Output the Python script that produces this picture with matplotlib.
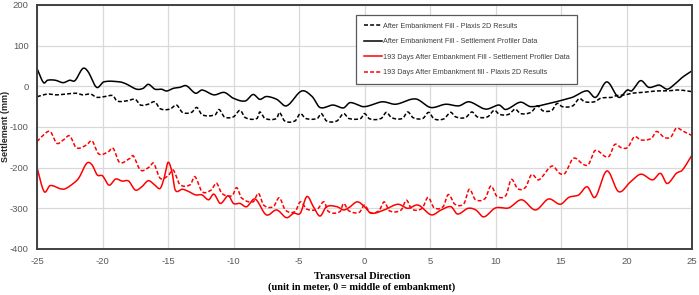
import numpy as np
import matplotlib
matplotlib.use("Agg")
import matplotlib.pyplot as plt

# ---------------- data ----------------
x_fill_profiler = [-25, -24.5, -24.2, -23.6, -23.0, -22.5, -22.1, -21.5, -21.1, -20.45, -19.9, -18.7, -18.2,
                   -17.4, -16.9, -16.5, -16.0, -15.5, -15.1, -14.6, -14.1, -13.6, -12.9, -12.4, -11.5, -10.7,
                   -10.0, -9.1, -8.5, -8.0, -7.5, -6.7, -5.95, -4.8, -4.0, -3.4, -2.4, -1.6, -1.1, -0.04, 1.36,
                   2.38, 3.9, 5.05, 6.2, 7.2, 7.98, 9.25, 10.27, 10.78, 11.9, 12.7, 14.1, 15.1, 15.87, 17.0,
                   17.65, 18.5, 19.4, 20.06, 20.4, 21.08, 21.7, 22.5, 23.1, 23.6, 24.26, 25]
y_fill_profiler = [44, 9, 15, 15, 9, 15, 14, 44, 36, -2.5, 11, 11, 6, -7, -5, 5, -7, -7, -11.5, -5, -2.5, 1.5,
                   -17, -9, -21, -15, -29.5, -36, -20, -32, -25, -32, -48, -11.5, -25, -52, -46, -53, -40, -50,
                   -38, -44, -31, -52, -44, -48, -38, -56, -46, -57, -39, -50, -42, -34, -27, -11, -27, 11, -27,
                   -9, -11, 14, -2.5, 3, -7, 3, 22, 38]

x_fill_plaxis = [-25, -24.2, -23.5, -22.0, -21.5, -20.9, -20.45, -19.8, -19.2, -18.9, -18.2, -17.5, -17.1,
                 -16.5, -16.0, -15.6, -14.85, -14.35, -13.9, -13.2, -12.8, -12.4, -11.4, -11.1, -10.7, -10.0,
                 -9.5, -9.1, -8.2, -8.0, -7.6, -6.7, -6.5, -6.1, -5.3, -4.9, -4.5, -3.6, -3.3, -2.9, -2.1, -1.6,
                 -1.2, -0.29, 0.0, 0.39, 1.27, 1.67, 2.05, 2.9, 3.3, 3.7, 4.45, 4.9, 5.3, 6.06, 6.57, 6.95, 7.7,
                 8.2, 8.6, 9.4, 9.9, 10.3, 11.0, 11.5, 11.9, 12.7, 13.2, 13.6, 14.3, 14.7, 15.1, 15.9, 16.4,
                 16.8, 17.55, 18.05, 18.9, 19.2, 19.9, 20.4, 21.2, 22.2, 23.2, 24.0, 25]
y_fill_plaxis = [-25.5, -19, -21, -17, -21, -19, -27, -25, -23, -36, -36, -32, -46, -44, -38, -55, -56, -46,
                 -64, -64, -52, -70, -70, -57, -75, -75, -59, -77, -79, -63, -79, -79, -64, -85, -85, -67, -79,
                 -79, -67, -85, -85, -67, -79, -79, -67, -80, -79, -64, -77, -79, -63, -77, -79, -64, -80, -80,
                 -64, -75, -77, -63, -75, -75, -59, -69, -69, -56, -67, -64, -48, -60, -59, -42, -50, -48, -30,
                 -38, -38, -29, -27, -23, -21, -17, -15, -11.5, -11, -9, -13]

x_193_profiler = [-25, -24.45, -24.0, -23.2, -22.85, -22.2, -21.8, -21.2, -20.8, -20.4, -20.0, -19.5, -19.0,
                  -18.5, -18.0, -17.5, -17.0, -16.5, -16.0, -15.6, -15.3, -15.0, -14.7, -14.45, -13.9, -13.4,
                  -12.9, -12.4, -11.9, -11.5, -11.0, -10.4, -10.0, -9.5, -9.0, -8.35, -7.5, -6.7, -5.95, -5.4,
                  -4.9, -4.4, -3.9, -3.4, -2.9, -2.1, -1.6, -1.18, -0.55, 0.0, 0.5, 1.5, 2.55, 3.3, 4.1, 5.1,
                  5.85, 6.6, 7.1, 7.9, 8.5, 9.1, 10.0, 11.0, 12.0, 13.05, 14.05, 14.95, 15.6, 16.35, 17.0, 17.6,
                  18.5, 19.4, 20.3, 21.1, 22.0, 22.6, 23.1, 23.8, 24.26, 25]
y_193_profiler = [-200, -259, -244, -252, -252, -238, -225, -189, -193, -218, -220, -243, -228, -233, -233,
                  -255, -247, -232, -243, -251, -226, -187, -210, -255, -253, -259, -267, -267, -279, -265,
                  -288, -269, -288, -288, -296, -277, -316, -304, -323, -312, -312, -271, -296, -319, -296,
                  -296, -304, -298, -284, -296, -312, -304, -290, -300, -292, -316, -304, -296, -314, -300,
                  -304, -321, -299, -299, -279, -304, -277, -290, -273, -267, -247, -273, -208, -259, -235,
                  -216, -230, -214, -239, -214, -206, -169]

x_193_plaxis = [-25, -24.65, -24.0, -23.5, -23.0, -22.5, -22.0, -21.2, -20.8, -20.3, -19.55, -19.2, -18.7,
                -17.9, -17.65, -17.1, -16.4, -16.1, -15.6, -15.0, -14.6, -14.1, -13.3, -12.95, -12.4, -11.7,
                -11.3, -10.9, -10.1, -9.76, -9.4, -8.5, -8.1, -7.7, -6.96, -6.5, -6.05, -5.3, -4.9, -4.4, -3.6,
                -3.1, -2.75, -1.86, -1.6, -1.2, -0.4, 0.0, 0.4, 1.1, 1.5, 1.9, 2.8, 3.2, 3.6, 4.4, 4.85, 5.3,
                6.0, 6.4, 6.9, 7.6, 8.0, 8.45, 9.2, 9.65, 10.1, 10.8, 11.2, 11.7, 12.3, 12.75, 13.3, 14.3,
                14.9, 15.3, 15.95, 16.7, 17.1, 17.6, 18.4, 18.7, 19.1, 19.6, 20.1, 20.6, 21.1, 21.9, 22.3,
                22.9, 23.4, 23.8, 24.3, 25]
y_193_plaxis = [-136, -124, -111, -140, -132, -122, -151, -144, -134, -166, -161, -152, -187, -177, -171,
                -206, -198, -189, -226, -220, -206, -241, -242, -222, -259, -255, -238, -263, -269, -249, -274,
                -284, -263, -292, -296, -274, -304, -308, -284, -302, -302, -284, -308, -308, -288, -306, -310,
                -292, -310, -306, -284, -306, -304, -280, -302, -300, -273, -298, -296, -266, -290, -288, -253,
                -278, -276, -245, -270, -268, -229, -252, -248, -217, -230, -196, -214, -214, -177, -192, -192,
                -158, -173, -171, -143, -151, -150, -124, -132, -128, -111, -126, -124, -103, -110, -121]

labels = ["After Embankment Fill - Plaxis 2D Results",
          "After Embankment Fill - Settlement Profiler Data",
          "193 Days After Embankment Fill - Settlement Profiler Data",
          "193 Days After Embankment fill - Plaxis 2D Results"]
x_ticks = [-25, -20, -15, -10, -5, 0, 5, 10, 15, 20, 25]
y_ticks = [-400, -300, -200, -100, 0, 100, 200]


def smooth(x, y, n=12):
    """Excel-like smoothed line: cubic Hermite through the points."""
    x = np.asarray(x, float)
    y = np.asarray(y, float)
    m = np.empty_like(y)
    m[1:-1] = (y[2:] - y[:-2]) / (x[2:] - x[:-2])
    m[0] = (y[1] - y[0]) / (x[1] - x[0])
    m[-1] = (y[-1] - y[-2]) / (x[-1] - x[-2])
    xs, ys = [], []
    for i in range(len(x) - 1):
        h = x[i + 1] - x[i]
        t = np.linspace(0, 1, n, endpoint=False)
        h00 = 2 * t**3 - 3 * t**2 + 1
        h10 = t**3 - 2 * t**2 + t
        h01 = -2 * t**3 + 3 * t**2
        h11 = t**3 - t**2
        xs.append(x[i] + t * h)
        ys.append(h00 * y[i] + h10 * h * m[i] + h01 * y[i + 1] + h11 * h * m[i + 1])
    xs.append([x[-1]])
    ys.append([y[-1]])
    return np.concatenate(xs), np.concatenate(ys)


plt.rcParams['font.family'] = ['Liberation Sans', 'DejaVu Sans']
plt.rcParams['axes.unicode_minus'] = False

W, H = 699, 295
fig = plt.figure(figsize=(W / 100, H / 100), dpi=100)
ax = fig.add_axes([37 / W, 1 - 249 / H, 655 / W, 244 / H])

lw = 1.1
dash = (2.6, 1.4)
ax.plot(*smooth(x_fill_plaxis, y_fill_plaxis), color='black', lw=lw, dashes=dash, label=labels[0])
ax.plot(*smooth(x_fill_profiler, y_fill_profiler), color='black', lw=lw, label=labels[1])
ax.plot(*smooth(x_193_profiler, y_193_profiler), color='#ff0000', lw=lw, label=labels[2])
ax.plot(*smooth(x_193_plaxis, y_193_plaxis), color='#ff0000', lw=lw, dashes=dash, label=labels[3])

ax.set_xlim(-25, 25)
ax.set_ylim(-400, 200)
ax.set_xticks(x_ticks)
ax.set_yticks(y_ticks)
ax.grid(True, color='#d9d9d9', lw=0.9)
ax.set_axisbelow(True)
ax.tick_params(axis='y', length=0, labelsize=6.8, colors='#595959', pad=6)
ax.tick_params(axis='x', length=0, labelsize=6.8, colors='#595959', pad=6)
for s in ax.spines.values():
    s.set_color('#404040')
    s.set_linewidth(1.4)

ax.set_ylabel("Settlement (mm)", fontsize=6.5, fontweight='bold', color='#262626')
ax.yaxis.set_label_coords(-0.041, 0.504)

fig.text(362 / W, 1 - 282 / H, "Transversal Direction\n(unit in meter, 0 = middle of embankment)",
         ha='center', va='center', fontsize=7.5, fontweight='bold',
         family=['Liberation Serif', 'DejaVu Serif'], color='black', linespacing=1.3)

leg = ax.legend(loc='upper left', bbox_to_anchor=(0.487, 0.959), fontsize=5.25, frameon=True,
                fancybox=False, edgecolor='#595959', framealpha=1, handlelength=2.5,
                handletextpad=0.1, labelspacing=1.15, borderpad=1.05, borderaxespad=0)
leg.get_frame().set_linewidth(0.9)
for t in leg.get_texts():
    t.set_color('#404040')

fig.savefig("out.png", dpi=100)
